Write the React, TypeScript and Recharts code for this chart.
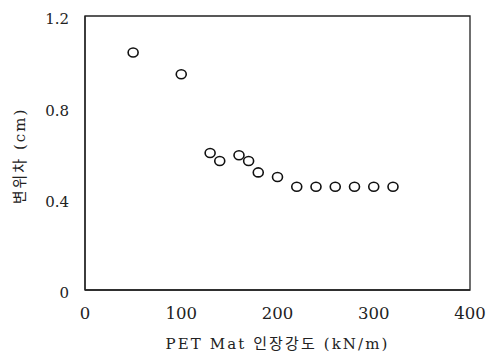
import React from 'react';
import { ScatterChart, Scatter, XAxis, YAxis, ReferenceArea } from 'recharts';

const strengths = [50, 100, 130, 140, 160, 170, 180, 200, 220, 240, 260, 280, 300, 320];
const displacements = [1.04, 0.945, 0.6, 0.565, 0.59, 0.565, 0.515, 0.495, 0.452, 0.452, 0.452, 0.452, 0.452, 0.452];
const xTicks = [0, 100, 200, 300, 400];
const yTicks = [0, 0.4, 0.8, 1.2];
const xLabel = 'PET Mat 인장강도 (kN/m)';
const yLabel = '변위차 (cm)';

const data = strengths.map((x, i) => ({ x, y: displacements[i] }));

const serif = 'DejaVu Serif, Noto Sans CJK KR, serif';
const ink = '#222';

const Marker = (props: any) => {
  const { cx, cy } = props;
  if (cx == null || cy == null) return null;
  return <ellipse cx={cx} cy={cy} rx={5} ry={4.5} fill="#fff" stroke="#111" strokeWidth={1.6} />;
};

const XLabel = (props: any) => {
  const vb = props.viewBox || {};
  const cx = vb.x + vb.width / 2;
  return (
    <text x={cx} y={vb.y + 54} textAnchor="middle" dominantBaseline="central"
      style={{ fontFamily: serif }} fontSize={15} letterSpacing={2.1} fill={ink}>
      {xLabel}
    </text>
  );
};

const YLabel = (props: any) => {
  const vb = props.viewBox || {};
  const x = vb.x;
  const y = vb.y + vb.height / 2 + 3;
  return (
    <text x={x} y={y} transform={`rotate(-90, ${x}, ${y})`} textAnchor="middle" dominantBaseline="central"
      style={{ fontFamily: serif }} fontSize={15} letterSpacing={2} fill={ink}>
      {yLabel}
    </text>
  );
};

export default function App() {
  return (
    <div style={{ position: 'absolute', left: 0, top: 0, width: 495, height: 356, background: '#fff', fontFamily: serif }}>
      <ScatterChart width={495} height={356} margin={{ top: 16, right: 25, bottom: 10, left: 20 }} style={{ fontFamily: serif }}>
        <XAxis
          type="number"
          dataKey="x"
          domain={[0, 400]}
          ticks={xTicks}
          tickLine={false}
          tickSize={0}
          tickMargin={17}
          axisLine={{ stroke: ink, strokeWidth: 1.3 }}
          height={56}
          tick={{ fontFamily: serif, fontSize: 16.5, fill: ink }}
          label={{ content: XLabel }}
          allowDataOverflow
        />
        <YAxis
          type="number"
          dataKey="y"
          domain={[0, 1.2]}
          ticks={yTicks}
          tickLine={false}
          tickSize={0}
          tickMargin={16}
          axisLine={{ stroke: ink, strokeWidth: 1.3 }}
          width={65}
          tick={{ fontFamily: serif, fontSize: 15, fill: ink, dy: 3 }}
          label={{ content: YLabel }}
          allowDataOverflow
        />
        <ReferenceArea x1={0} x2={400} y1={0} y2={1.2} fill="none" stroke={ink} strokeWidth={1.3} />
        <Scatter data={data} shape={Marker} isAnimationActive={false} />
      </ScatterChart>
    </div>
  );
}
